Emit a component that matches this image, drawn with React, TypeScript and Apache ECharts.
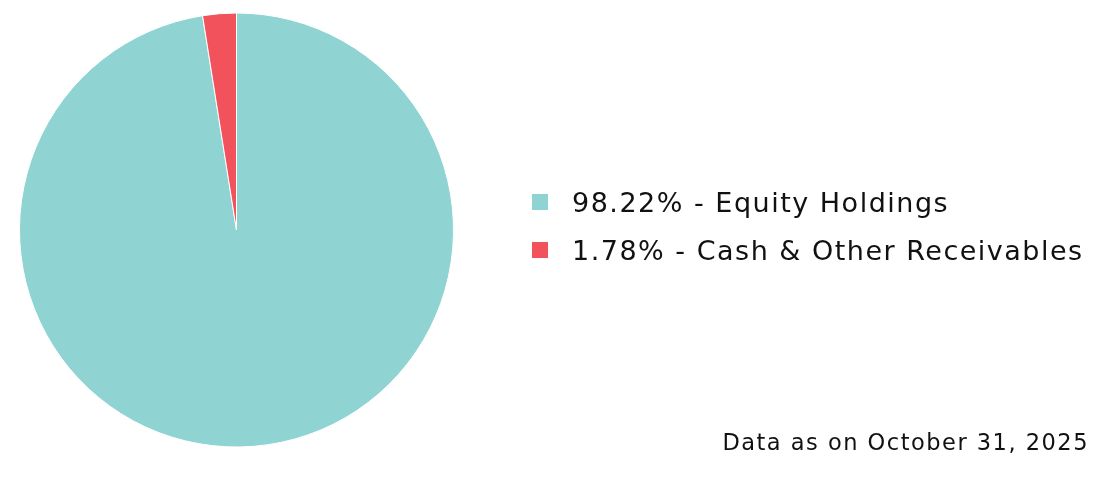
import React, { useEffect, useRef } from "react";
import * as echarts from "echarts";

const categories = ["Equity Holdings", "Cash & Other Receivables"];
const values = [98.22, 1.78];
const colors = ["#8fd3d2", "#f2525c"];
const footnote = "Data as on October 31, 2025";

const FONT = "'DejaVu Sans', sans-serif";

export default function App() {
  const ref = useRef<HTMLDivElement>(null);
  useEffect(() => {
    if (!ref.current) return;
    const chart = echarts.init(ref.current, null, { renderer: "svg" });
    const data = categories.map((c, i) => ({
      name: c,
      value: values[i],
      itemStyle: { color: colors[i] },
    }));
    chart.setOption({
      animation: false,
      legend: {
        orient: "vertical",
        left: 530,
        top: 187,
        padding: 0,
        itemWidth: 18,
        itemHeight: 18,
        itemGap: 18,
        icon: "rect",
        data: categories,
        formatter: (name: string) => {
          const i = categories.indexOf(name);
          return `${values[i].toFixed(2)}% - ${name}`;
        },
        textStyle: {
          fontFamily: FONT,
          fontSize: 27,
          color: "#111111",
          padding: [0, 0, 0, 18],
          lineHeight: 30,
        },
      },
      graphic: [
        {
          type: "text",
          x: 1089,
          y: 430,
          style: {
            text: footnote,
            textAlign: "right",
            fontFamily: FONT,
            fontSize: 22.5,
            fill: "#111111",
          },
        },
      ],
      series: [
        {
          type: "pie",
          center: [236.5, 230],
          radius: 217,
          startAngle: 90,
          clockwise: true,
          minAngle: 9,
          label: { show: false },
          labelLine: { show: false },
          itemStyle: { borderColor: "#ffffff", borderWidth: 1 },
          emphasis: { disabled: true },
          data,
        },
      ],
    });
    return () => chart.dispose();
  }, []);
  return (
    <div
      ref={ref}
      style={{
        position: "fixed",
        left: 0,
        top: 0,
        width: 1109,
        height: 495,
        letterSpacing: "1.5px",
      }}
    />
  );
}
